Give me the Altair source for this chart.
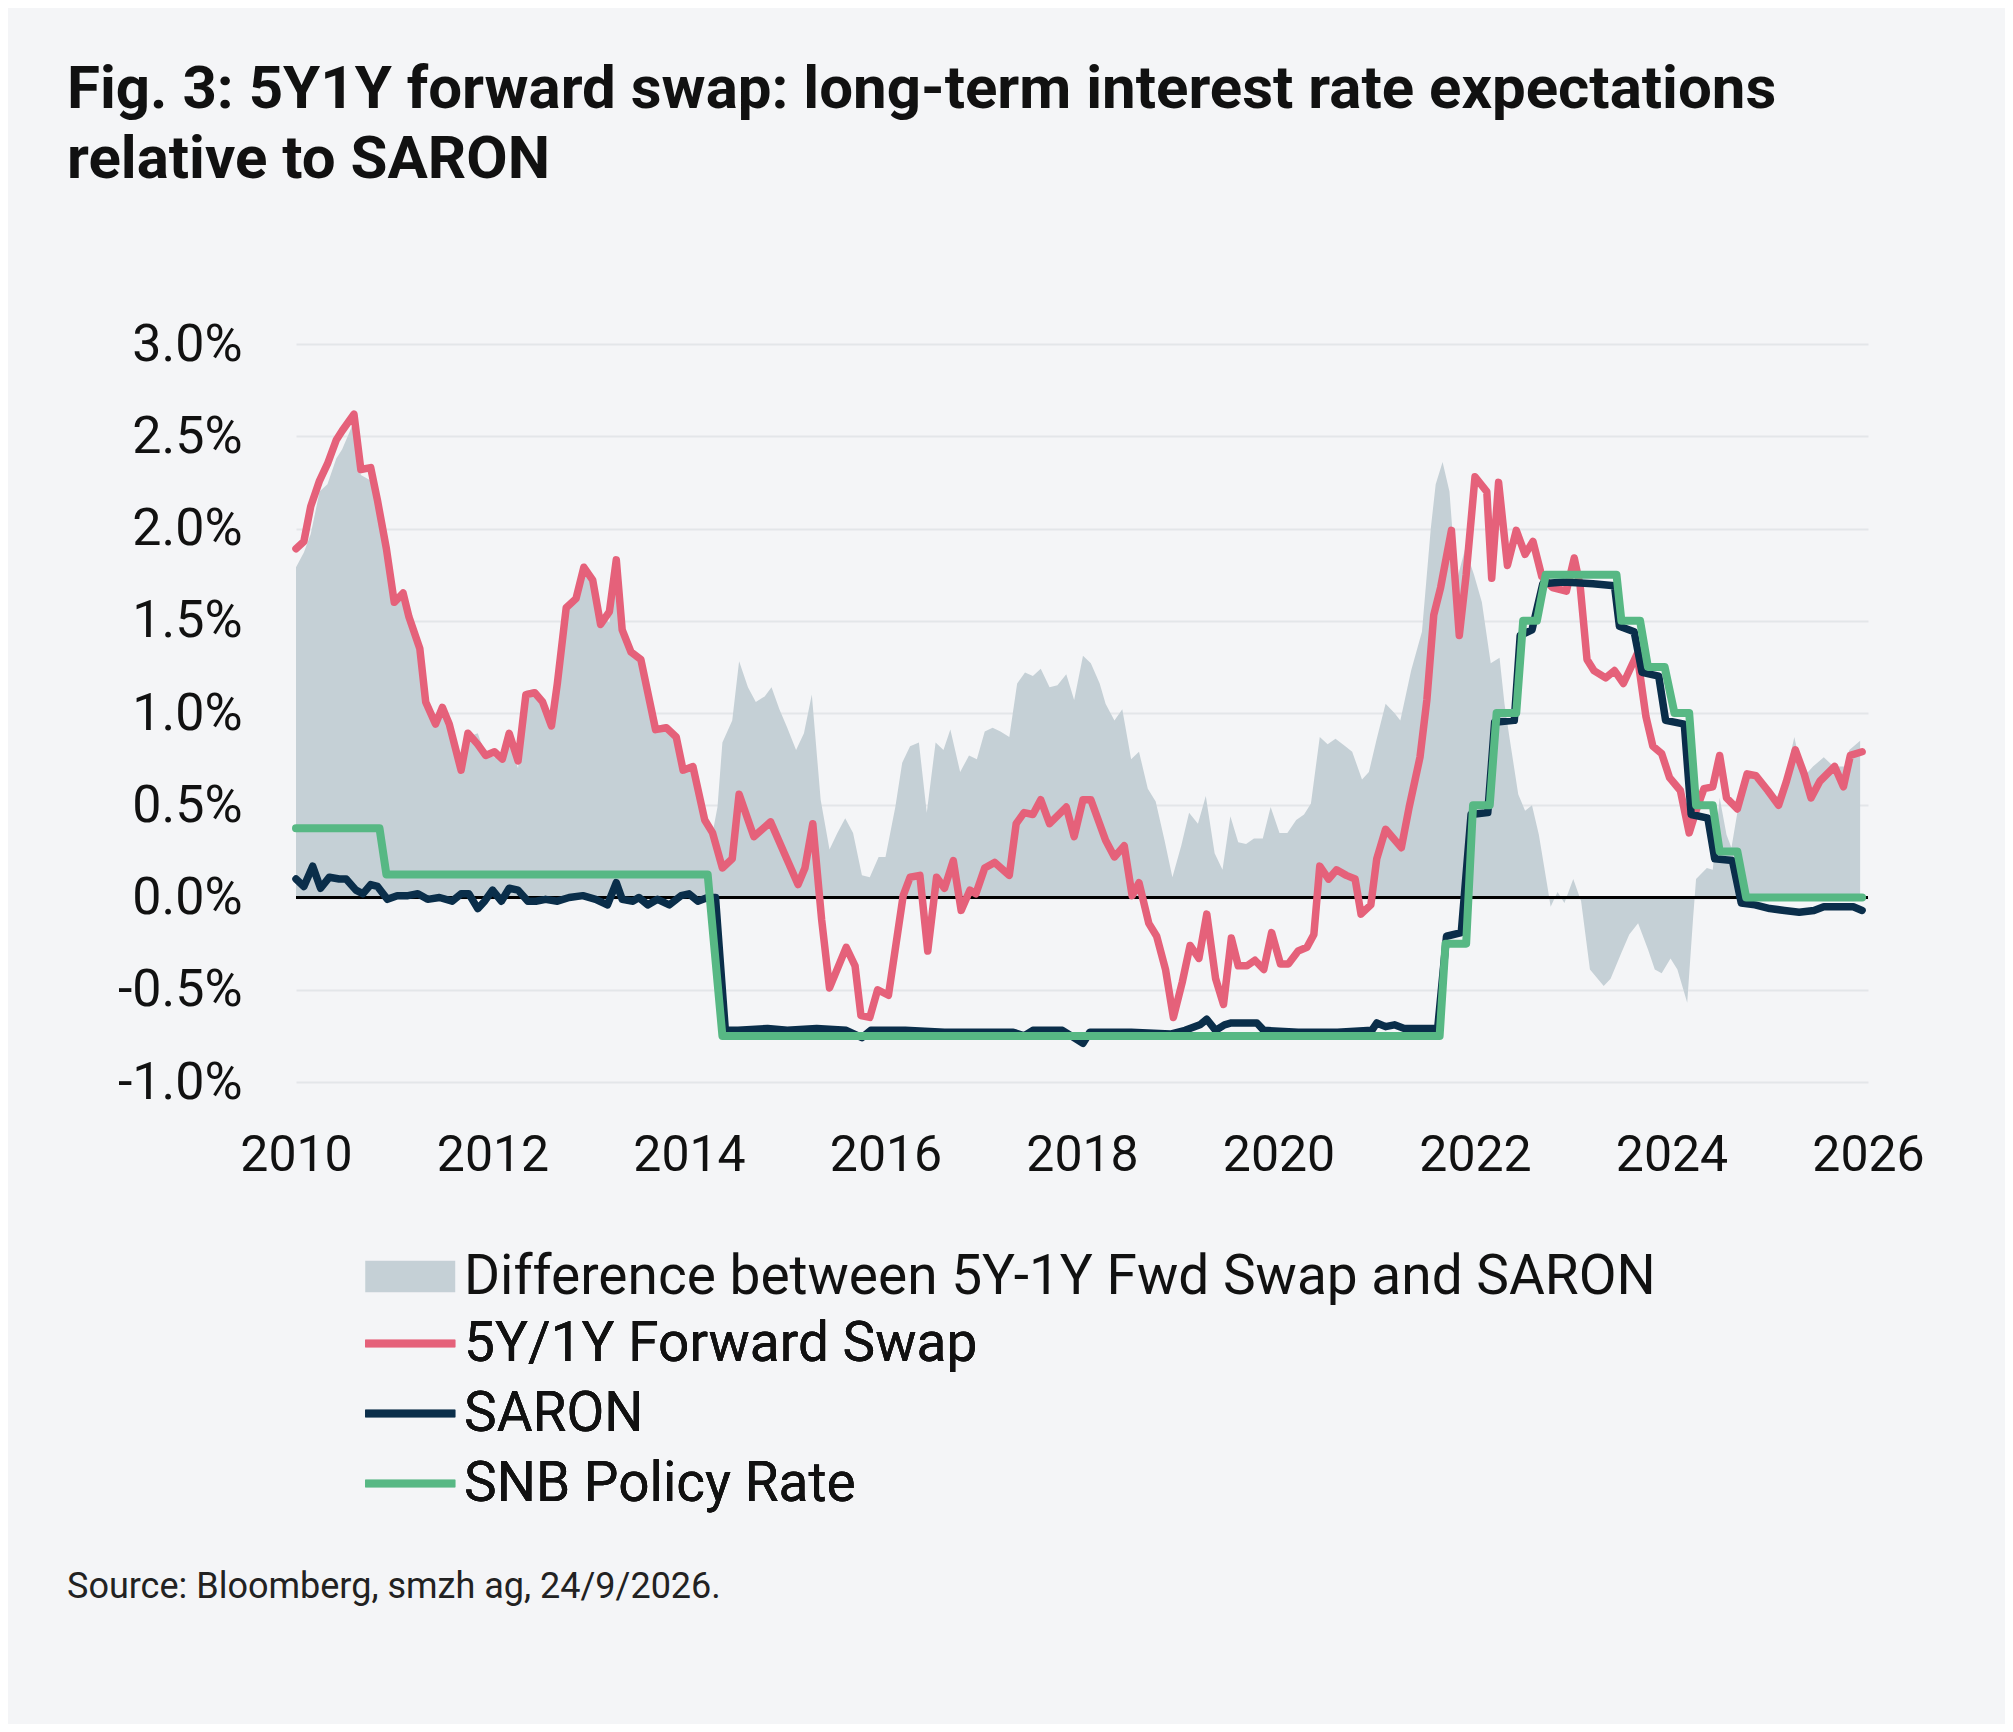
import altair as alt
import pandas as pd

# ---------------- data ----------------
swap_t = [2010.00, 2010.08, 2010.15, 2010.24, 2010.32, 2010.41, 2010.47, 2010.59, 2010.66, 2010.76,
          2010.83, 2010.92, 2011.00, 2011.09, 2011.15, 2011.26, 2011.32, 2011.42, 2011.49, 2011.56,
          2011.68, 2011.75, 2011.85, 2011.93, 2012.02, 2012.10, 2012.17, 2012.26, 2012.34, 2012.43,
          2012.51, 2012.60, 2012.66, 2012.75, 2012.85, 2012.93, 2013.02, 2013.10, 2013.19, 2013.26,
          2013.32, 2013.41, 2013.51, 2013.66, 2013.77, 2013.87, 2013.94, 2014.04, 2014.16, 2014.24,
          2014.34, 2014.44, 2014.51, 2014.66, 2014.83, 2014.97, 2015.11, 2015.18, 2015.26, 2015.35,
          2015.43, 2015.60, 2015.69, 2015.75, 2015.84, 2015.92, 2016.03, 2016.18, 2016.25, 2016.35,
          2016.43, 2016.52, 2016.60, 2016.69, 2016.77, 2016.86, 2016.92, 2017.01, 2017.11, 2017.26,
          2017.33, 2017.41, 2017.50, 2017.58, 2017.67, 2017.84, 2017.92, 2018.01, 2018.09, 2018.24,
          2018.33, 2018.43, 2018.51, 2018.58, 2018.68, 2018.76, 2018.85, 2018.93, 2019.02, 2019.10,
          2019.19, 2019.27, 2019.36, 2019.44, 2019.52, 2019.59, 2019.68, 2019.76, 2019.85, 2019.93,
          2020.02, 2020.10, 2020.20, 2020.29, 2020.36, 2020.42, 2020.51, 2020.59, 2020.69, 2020.78,
          2020.84, 2020.94, 2021.00, 2021.09, 2021.25, 2021.33, 2021.44, 2021.51, 2021.58, 2021.65,
          2021.76, 2021.84, 2021.91, 2022.00, 2022.12, 2022.17, 2022.24, 2022.33, 2022.42, 2022.51,
          2022.59, 2022.68, 2022.79, 2022.93, 2023.01, 2023.07, 2023.14, 2023.21, 2023.33, 2023.42,
          2023.51, 2023.65, 2023.74, 2023.81, 2023.90, 2023.98, 2024.09, 2024.18, 2024.25, 2024.33,
          2024.42, 2024.49, 2024.56, 2024.67, 2024.77, 2024.86, 2024.98, 2025.09, 2025.17, 2025.26,
          2025.35, 2025.42, 2025.51, 2025.66, 2025.75, 2025.82, 2025.94]
swap_v = [1.89, 1.93, 2.12, 2.26, 2.35, 2.48, 2.53, 2.62, 2.32, 2.33,
          2.15, 1.89, 1.60, 1.65, 1.52, 1.35, 1.06, 0.94, 1.03, 0.94,
          0.69, 0.89, 0.83, 0.77, 0.79, 0.75, 0.89, 0.74, 1.10, 1.11,
          1.06, 0.93, 1.16, 1.57, 1.62, 1.79, 1.72, 1.48, 1.55, 1.83,
          1.45, 1.33, 1.29, 0.91, 0.92, 0.87, 0.69, 0.71, 0.42, 0.35,
          0.16, 0.21, 0.56, 0.33, 0.41, 0.24, 0.07, 0.16, 0.40, -0.12,
          -0.49, -0.27, -0.37, -0.64, -0.65, -0.50, -0.53, 0.01, 0.11, 0.12,
          -0.29, 0.11, 0.05, 0.20, -0.07, 0.04, 0.02, 0.16, 0.19, 0.12,
          0.40, 0.46, 0.45, 0.53, 0.40, 0.49, 0.33, 0.53, 0.53, 0.31,
          0.22, 0.28, 0.01, 0.08, -0.14, -0.21, -0.39, -0.65, -0.46, -0.26,
          -0.33, -0.09, -0.44, -0.58, -0.22, -0.37, -0.37, -0.34, -0.39, -0.19,
          -0.36, -0.36, -0.29, -0.27, -0.20, 0.17, 0.10, 0.15, 0.12, 0.10,
          -0.09, -0.04, 0.21, 0.37, 0.27, 0.49, 0.76, 1.07, 1.53, 1.68,
          1.99, 1.42, 1.75, 2.28, 2.20, 1.73, 2.25, 1.80, 1.99, 1.86,
          1.93, 1.74, 1.68, 1.66, 1.84, 1.69, 1.29, 1.23, 1.19, 1.23,
          1.16, 1.32, 0.98, 0.82, 0.78, 0.65, 0.58, 0.35, 0.47, 0.59,
          0.60, 0.77, 0.54, 0.48, 0.67, 0.66, 0.58, 0.50, 0.63, 0.80,
          0.67, 0.54, 0.63, 0.71, 0.60, 0.77, 0.79]

saron_t = [2010.00, 2010.08, 2010.17, 2010.25, 2010.34, 2010.44, 2010.51, 2010.61, 2010.68, 2010.76,
           2010.83, 2010.93, 2011.03, 2011.14, 2011.24, 2011.34, 2011.46, 2011.59, 2011.68, 2011.76,
           2011.85, 2011.92, 2012.00, 2012.09, 2012.17, 2012.26, 2012.36, 2012.44, 2012.54, 2012.66,
           2012.78, 2012.92, 2013.05, 2013.17, 2013.26, 2013.32, 2013.43, 2013.49, 2013.58, 2013.68,
           2013.80, 2013.92, 2014.00, 2014.09, 2014.19, 2014.27, 2014.37, 2014.50, 2014.80, 2015.00,
           2015.30, 2015.60, 2015.76, 2015.85, 2016.20, 2016.60, 2017.00, 2017.30, 2017.41, 2017.50,
           2017.80, 2018.01, 2018.08, 2018.50, 2018.90, 2019.05, 2019.20, 2019.27, 2019.36, 2019.45,
           2019.52, 2019.78, 2019.85, 2020.20, 2020.60, 2020.95, 2021.00, 2021.09, 2021.18, 2021.28,
           2021.62, 2021.71, 2021.86, 2021.96, 2022.13, 2022.20, 2022.40, 2022.46, 2022.58, 2022.69,
           2022.90, 2023.20, 2023.42, 2023.47, 2023.62, 2023.70, 2023.87, 2023.94, 2024.13, 2024.20,
           2024.37, 2024.44, 2024.62, 2024.71, 2024.85, 2025.00, 2025.15, 2025.30, 2025.45, 2025.55,
           2025.70, 2025.85, 2025.94]
saron_v = [0.10, 0.06, 0.17, 0.05, 0.11, 0.10, 0.10, 0.04, 0.02, 0.07,
           0.06, -0.01, 0.01, 0.01, 0.02, -0.01, 0.00, -0.02, 0.02, 0.02,
           -0.06, -0.02, 0.04, -0.02, 0.05, 0.04, -0.02, -0.02, -0.01, -0.02,
           0.00, 0.01, -0.01, -0.04, 0.08, -0.01, -0.02, 0.00, -0.04, -0.01,
           -0.04, 0.01, 0.02, -0.02, 0.00, 0.00, -0.72, -0.72, -0.71, -0.72,
           -0.71, -0.72, -0.76, -0.72, -0.72, -0.73, -0.73, -0.73, -0.75, -0.72,
           -0.72, -0.79, -0.73, -0.73, -0.74, -0.72, -0.69, -0.66, -0.72, -0.69,
           -0.68, -0.68, -0.72, -0.73, -0.73, -0.72, -0.68, -0.70, -0.69, -0.71,
           -0.71, -0.21, -0.19, 0.45, 0.46, 0.95, 0.96, 1.42, 1.45, 1.70,
           1.71, 1.70, 1.69, 1.47, 1.44, 1.22, 1.20, 0.96, 0.94, 0.45,
           0.43, 0.21, 0.20, -0.03, -0.04, -0.06, -0.07, -0.08, -0.07, -0.05,
           -0.05, -0.05, -0.07]

snb_t = [2010.00, 2010.85, 2010.92, 2014.19, 2014.34, 2021.64, 2021.70, 2021.91, 2021.98, 2022.15,
         2022.22, 2022.42, 2022.49, 2022.63, 2022.72, 2023.44, 2023.49, 2023.68, 2023.76, 2023.93,
         2024.03, 2024.18, 2024.25, 2024.42, 2024.49, 2024.67, 2024.76, 2025.94]
snb_v = [0.375, 0.375, 0.125, 0.125, -0.75, -0.75, -0.25, -0.25, 0.50, 0.50,
         1.00, 1.00, 1.50, 1.50, 1.75, 1.75, 1.50, 1.50, 1.25, 1.25,
         1.00, 1.00, 0.50, 0.50, 0.25, 0.25, 0.00, 0.00]

diff_t = [2010.00, 2010.08, 2010.15, 2010.24, 2010.32, 2010.41, 2010.47, 2010.59, 2010.66, 2010.76,
          2010.83, 2010.92, 2011.00, 2011.09, 2011.15, 2011.26, 2011.32, 2011.42, 2011.49, 2011.56,
          2011.68, 2011.75, 2011.85, 2011.93, 2012.02, 2012.10, 2012.17, 2012.26, 2012.34, 2012.43,
          2012.51, 2012.60, 2012.66, 2012.75, 2012.85, 2012.93, 2013.02, 2013.10, 2013.19, 2013.26,
          2013.32, 2013.41, 2013.51, 2013.66, 2013.77, 2013.87, 2013.94, 2014.04, 2014.16, 2014.24,
          2014.29, 2014.34, 2014.44, 2014.51, 2014.60, 2014.68, 2014.77, 2014.84, 2014.92, 2015.00,
          2015.09, 2015.17, 2015.25, 2015.34, 2015.43, 2015.51, 2015.59, 2015.67, 2015.76, 2015.84,
          2015.93, 2016.00, 2016.10, 2016.17, 2016.25, 2016.34, 2016.42, 2016.51, 2016.59, 2016.66,
          2016.76, 2016.85, 2016.93, 2017.01, 2017.09, 2017.17, 2017.26, 2017.34, 2017.42, 2017.50,
          2017.58, 2017.67, 2017.75, 2017.84, 2017.92, 2018.01, 2018.09, 2018.18, 2018.24, 2018.33,
          2018.41, 2018.50, 2018.58, 2018.67, 2018.75, 2018.84, 2018.92, 2019.01, 2019.09, 2019.18,
          2019.26, 2019.35, 2019.43, 2019.51, 2019.59, 2019.67, 2019.75, 2019.84, 2019.92, 2020.01,
          2020.09, 2020.18, 2020.26, 2020.33, 2020.42, 2020.50, 2020.58, 2020.68, 2020.75, 2020.85,
          2020.92, 2021.00, 2021.09, 2021.18, 2021.24, 2021.35, 2021.46, 2021.55, 2021.60, 2021.67,
          2021.74, 2021.81, 2021.90, 2021.99, 2022.07, 2022.16, 2022.25, 2022.30, 2022.35, 2022.44,
          2022.51, 2022.58, 2022.65, 2022.74, 2022.77, 2022.84, 2022.91, 2023.00, 2023.08, 2023.17,
          2023.31, 2023.38, 2023.49, 2023.57, 2023.66, 2023.76, 2023.83, 2023.90, 2023.99, 2024.06,
          2024.16, 2024.22, 2024.25, 2024.36, 2024.42, 2024.49, 2024.56, 2024.61, 2024.68, 2024.74,
          2024.84, 2024.98, 2025.07, 2025.16, 2025.25, 2025.34, 2025.44, 2025.55, 2025.65, 2025.76,
          2025.81, 2025.92]
diff_v = [1.79, 1.87, 1.97, 2.20, 2.24, 2.38, 2.43, 2.58, 2.29, 2.26,
          2.09, 1.89, 1.60, 1.64, 1.51, 1.34, 1.04, 0.94, 1.04, 0.96,
          0.67, 0.87, 0.89, 0.77, 0.76, 0.76, 0.84, 0.70, 1.12, 1.13,
          1.07, 0.95, 1.16, 1.57, 1.61, 1.79, 1.74, 1.52, 1.49, 1.83,
          1.46, 1.35, 1.29, 0.93, 0.94, 0.87, 0.68, 0.69, 0.44, 0.35,
          0.49, 0.84, 0.96, 1.28, 1.14, 1.06, 1.09, 1.14, 1.02, 0.92,
          0.80, 0.89, 1.10, 0.53, 0.26, 0.35, 0.43, 0.35, 0.12, 0.11,
          0.22, 0.22, 0.49, 0.73, 0.82, 0.84, 0.46, 0.84, 0.80, 0.91,
          0.68, 0.77, 0.75, 0.90, 0.92, 0.90, 0.87, 1.16, 1.22, 1.20,
          1.24, 1.14, 1.15, 1.21, 1.07, 1.31, 1.27, 1.16, 1.05, 0.96,
          1.02, 0.75, 0.79, 0.59, 0.52, 0.31, 0.11, 0.28, 0.46, 0.40,
          0.55, 0.24, 0.15, 0.44, 0.30, 0.29, 0.32, 0.32, 0.49, 0.35,
          0.35, 0.42, 0.45, 0.51, 0.87, 0.83, 0.86, 0.82, 0.79, 0.64,
          0.68, 0.86, 1.05, 1.00, 0.96, 1.23, 1.44, 2.00, 2.24, 2.36,
          2.20, 1.71, 1.89, 1.75, 1.60, 1.27, 1.30, 1.05, 0.87, 0.56,
          0.47, 0.50, 0.34, 0.05, -0.05, 0.03, -0.03, 0.10, -0.02, -0.39,
          -0.48, -0.44, -0.30, -0.20, -0.14, -0.28, -0.39, -0.41, -0.33, -0.39,
          -0.57, -0.11, 0.10, 0.16, 0.15, 0.54, 0.34, 0.27, 0.49, 0.68,
          0.68, 0.60, 0.54, 0.65, 0.87, 0.65, 0.71, 0.76, 0.71, 0.71,
          0.80, 0.85]

DIFF = "Difference between 5Y-1Y Fwd Swap and SARON"
SWAP = "5Y/1Y Forward Swap"
SARON = "SARON"
SNB = "SNB Policy  Rate"

title_lines = ["Fig. 3: 5Y1Y forward swap: long-term interest rate expectations",
               "relative to SARON"]
source_text = "Source: Bloomberg, smzh ag, 24/9/2026."
x_ticks = [2010, 2012, 2014, 2016, 2018, 2020, 2022, 2024, 2026]
y_ticks = [-1.0, -0.5, 0.0, 0.5, 1.0, 1.5, 2.0, 2.5, 3.0]

# ---------------- styling ----------------
FONT = "Roboto"
BG = "#F4F5F7"
C_AREA = "#C5D0D6"
C_SWAP = "#E5617A"
C_SARON = "#0A2E4A"
C_SNB = "#57B884"

W, H = 1572, 738
PAD_L, PAD_T = 288, 336
TOTAL_W, TOTAL_H = 1997, 1716

diff_df = pd.DataFrame({"t": diff_t, "v": diff_v, "series": DIFF})
swap_df = pd.DataFrame({"t": swap_t, "v": swap_v, "series": SWAP})
saron_df = pd.DataFrame({"t": saron_t, "v": saron_v, "series": SARON})
snb_df = pd.DataFrame({"t": snb_t, "v": snb_v, "series": SNB})

x_enc = alt.X("t:Q", scale=alt.Scale(domain=[2010, 2026], nice=False),
              axis=alt.Axis(values=x_ticks, format="d", title=None, grid=False,
                            domain=False, ticks=False, labelFont=FONT,
                            labelFontSize=50, labelColor="#111111",
                            labelPadding=48, labelFlush=False))
y_enc = alt.Y("v:Q", scale=alt.Scale(domain=[-1, 3], nice=False),
              axis=alt.Axis(values=y_ticks, title=None, grid=True,
                            gridColor="#E3E6E9", gridWidth=2,
                            domain=False, ticks=False, labelFont=FONT,
                            labelFontSize=52, labelColor="#111111",
                            labelPadding=54,
                            labelExpr="(datum.value < 0 ? '-' : '') + format(abs(datum.value), '.1f') + '%'"))

# legend symbols: unit u = sqrt(size)/2 = 11.25 px -> symbols 90 px wide
SYM_SIZE = 506
area_legend = alt.Legend(title=None, orient="none", legendX=53, legendY=905,
                         symbolType="M-1,-1.4H7V1.4H-1Z", symbolSize=SYM_SIZE,
                         symbolStrokeWidth=0, symbolOpacity=1,
                         labelFont=FONT, labelFontSize=55, labelColor="#111111",
                         labelLimit=3000, labelOffset=60)
line_legend = alt.Legend(title=None, orient="none", legendX=53, legendY=972,
                         symbolType="M-1,0H7", symbolSize=SYM_SIZE, symbolStrokeWidth=7.5,
                         labelFont=FONT, labelFontSize=55, labelColor="#111111",
                         labelLimit=3000, labelOffset=60, rowPadding=14)

area = alt.Chart(diff_df).mark_area(interpolate="linear").encode(
    x=x_enc, y=y_enc,
    fill=alt.Fill("series:N",
                  scale=alt.Scale(domain=[DIFF], range=[C_AREA]),
                  legend=area_legend),
)

zero = alt.Chart(pd.DataFrame({"v": [0.0]})).mark_rule(color="#000000", strokeWidth=3).encode(
    y=alt.Y("v:Q"))

line_scale = alt.Scale(domain=[SWAP, SARON, SNB], range=[C_SWAP, C_SARON, C_SNB])


def line_layer(df, width):
    return alt.Chart(df).mark_line(strokeWidth=width, strokeCap="round",
                                   strokeJoin="round").encode(
        x=alt.X("t:Q"), y=alt.Y("v:Q"),
        stroke=alt.Stroke("series:N", scale=line_scale, legend=line_legend),
        order=alt.Order("t:Q"))


swap_line = line_layer(swap_df, 7.5)
saron_line = line_layer(saron_df, 7.5)
snb_line = line_layer(snb_df, 8)

one = pd.DataFrame({"k": [0]})
title_text = alt.Chart(one).mark_text(
    align="left", baseline="alphabetic", font=FONT, fontSize=60, fontWeight="bold",
    color="#111111", lineHeight=70).encode(
    x=alt.value(67 - 296), y=alt.value(108 - 344), text=alt.value(title_lines))

source = alt.Chart(one).mark_text(
    align="left", baseline="middle", font=FONT, fontSize=36, color="#222222").encode(
    x=alt.value(67 - 296), y=alt.value(1587 - 344), text=alt.value(source_text))

chart = alt.layer(area, zero, swap_line, saron_line, snb_line, title_text, source).resolve_scale(
    fill="independent", stroke="independent"
).properties(
    width=W, height=H,
    background=BG,
    padding={"left": PAD_L, "top": PAD_T,
             "right": TOTAL_W - PAD_L - W, "bottom": TOTAL_H - PAD_T - H},
    autosize=alt.AutoSizeParams(type="none"),
).configure_view(stroke=None)

chart.save("out.html", embed_options={"renderer": "svg", "actions": False})
